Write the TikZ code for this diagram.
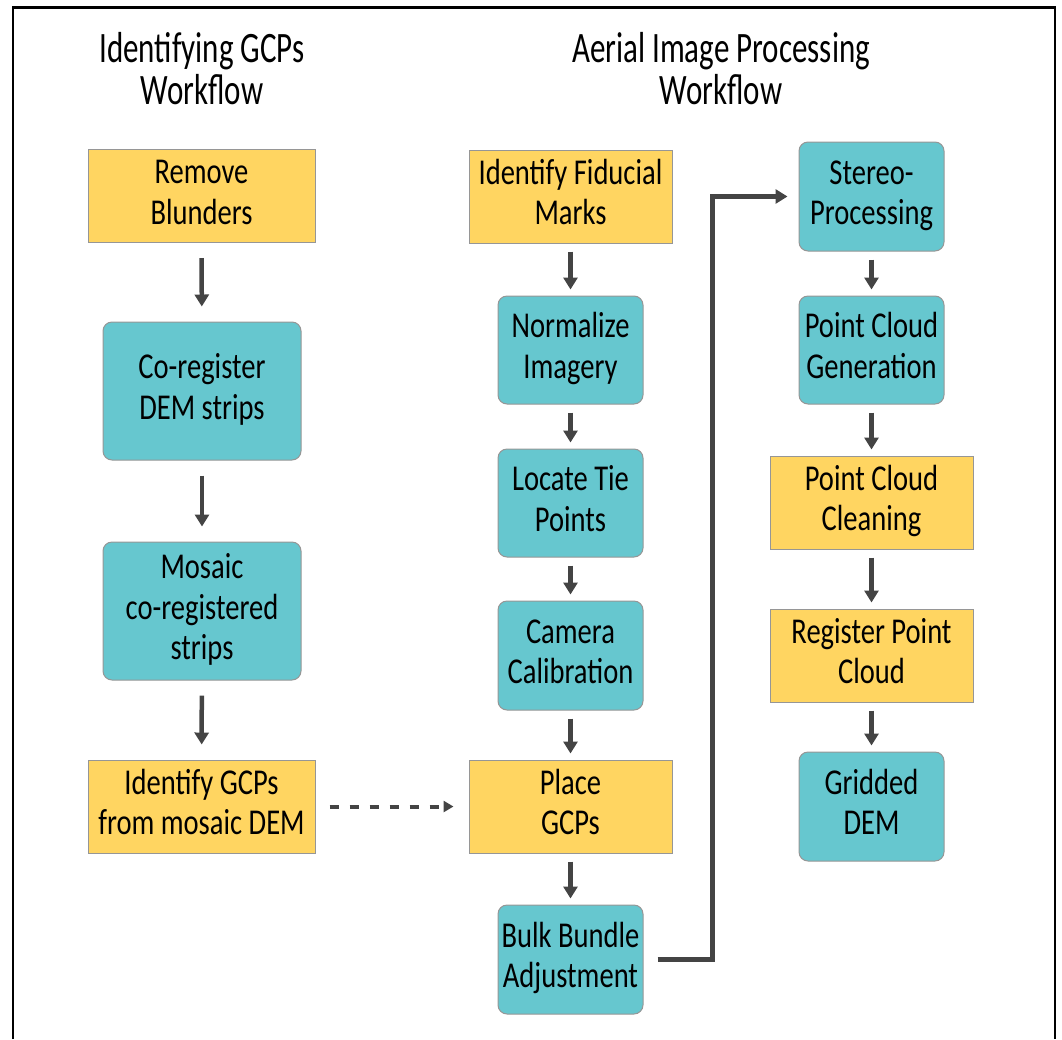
\documentclass[tikz,border=0pt]{standalone}
\usepackage{fontspec}
\setmainfont{Carlito}
\usepackage{graphicx}
\usetikzlibrary{arrows.meta}
\definecolor{ybox}{RGB}{255,213,97}
\definecolor{tbox}{RGB}{102,199,207}
\definecolor{edgegray}{RGB}{150,150,150}
\definecolor{arrowgray}{RGB}{68,68,68}
\newcommand\bt[1]{\scalebox{1.02}[1.3]{\fontsize{28}{30.8}\selectfont\begin{tabular}{@{}c@{}}#1\end{tabular}}}
\newcommand\ttl[1]{\scalebox{1}[1.4]{\fontsize{31}{28.6}\selectfont\begin{tabular}[t]{@{}c@{}}#1\end{tabular}}}
\tikzset{
  basebox/.style={inner sep=0pt, line width=1pt, draw=edgegray},
  yellowbox/.style={basebox, rectangle, fill=ybox},
  tealbox/.style={basebox, rectangle, rounded corners=9pt, fill=tbox},
  flow/.style={draw=arrowgray, line width=4.5pt, -{Triangle[width=14pt,length=12pt]}},
  titletext/.style={inner sep=0pt, anchor=base}
}
\begin{document}
\begin{tikzpicture}[x=1pt,y=-1pt]
\useasboundingbox (0,0) rectangle (1062,1039);
\draw[line width=2.5pt, black] (13,1039) -- (13,7.5) -- (1055,7.5) -- (1055,1039);

% titles
\node[titletext] (t1) at (202,62) {\ttl{Identifying GCPs\\Workflow}};
\node[titletext] (t2) at (721,62) {\ttl{Aerial Image Processing\\Workflow}};

% left column
\node[yellowbox, minimum width=227pt, minimum height=93pt] (rb) at (201.5,196) {\bt{Remove\\Blunders}};
\node[tealbox, minimum width=198pt, minimum height=138pt] (cr) at (202,391) {\bt{Co-register\\DEM strips}};
\node[tealbox, minimum width=198pt, minimum height=138pt] (mo) at (202,611) {\bt{Mosaic\\co-registered\\strips}};
\node[yellowbox, minimum width=227pt, minimum height=93pt] (ig) at (201.5,806.5) {\bt{Identify GCPs\\from mosaic DEM}};

% middle column
\node[yellowbox, minimum width=203pt, minimum height=93pt] (fm) at (570.5,196.5) {\bt{Identify Fiducial\\Marks}};
\node[tealbox, minimum width=145pt, minimum height=108pt] (ni) at (570.5,350) {\bt{Normalize\\Imagery}};
\node[tealbox, minimum width=145pt, minimum height=108pt] (lt) at (570.5,503) {\bt{Locate Tie\\Points}};
\node[tealbox, minimum width=145pt, minimum height=109pt] (cc) at (570.5,655.5) {\bt{Camera\\Calibration}};
\node[yellowbox, minimum width=203pt, minimum height=93pt] (pg) at (570.5,806.5) {\bt{Place\\GCPs}};
\node[tealbox, minimum width=145pt, minimum height=109pt] (bb) at (570.5,959.5) {\bt{Bulk Bundle\\Adjustment}};

% right column
\node[tealbox, minimum width=145pt, minimum height=109pt] (sp) at (871.5,196.5) {\bt{Stereo-\\Processing}};
\node[tealbox, minimum width=145pt, minimum height=108pt] (pc) at (871.5,350) {\bt{Point Cloud\\Generation}};
\node[yellowbox, minimum width=203pt, minimum height=93pt] (cl) at (871.5,502.5) {\bt{Point Cloud\\Cleaning}};
\node[yellowbox, minimum width=203pt, minimum height=93pt] (rp) at (871.5,655.5) {\bt{Register Point\\Cloud}};
\node[tealbox, minimum width=145pt, minimum height=109pt] (gd) at (871.5,806.5) {\bt{Gridded\\DEM}};

% left arrows
\begin{scope}[shorten <=15pt, shorten >=15pt]
\draw[flow] (rb) -- (cr);
\draw[flow] (cr) -- (mo);
\draw[flow] (mo) -- (ig);
\end{scope}

% middle & right arrows
\begin{scope}[shorten <=8pt, shorten >=6pt]
\draw[flow] (fm) -- (ni);
\draw[flow] (ni) -- (lt);
\draw[flow] (lt) -- (cc);
\draw[flow] (cc) -- (pg);
\draw[flow] (pg) -- (bb);
\draw[flow] (sp) -- (pc);
\draw[flow] (pc) -- (cl);
\draw[flow] (cl) -- (rp);
\draw[flow] (rp) -- (gd);
\end{scope}

% dashed
\draw[draw=arrowgray, line width=4pt, dash pattern=on 9pt off 11pt, shorten <=14pt, shorten >=15pt, -{Triangle[width=11pt,length=10pt]}] (ig.east) -- (pg.west);

% elbow
\coordinate (elb) at (712,0);
\draw[draw=arrowgray, line width=5pt, line join=miter, shorten <=14pt, shorten >=11pt, -{Triangle[width=14pt,length=12pt]}] (bb.east) -| (elb |- sp.west) -- (sp.west);
\end{tikzpicture}
\end{document}
